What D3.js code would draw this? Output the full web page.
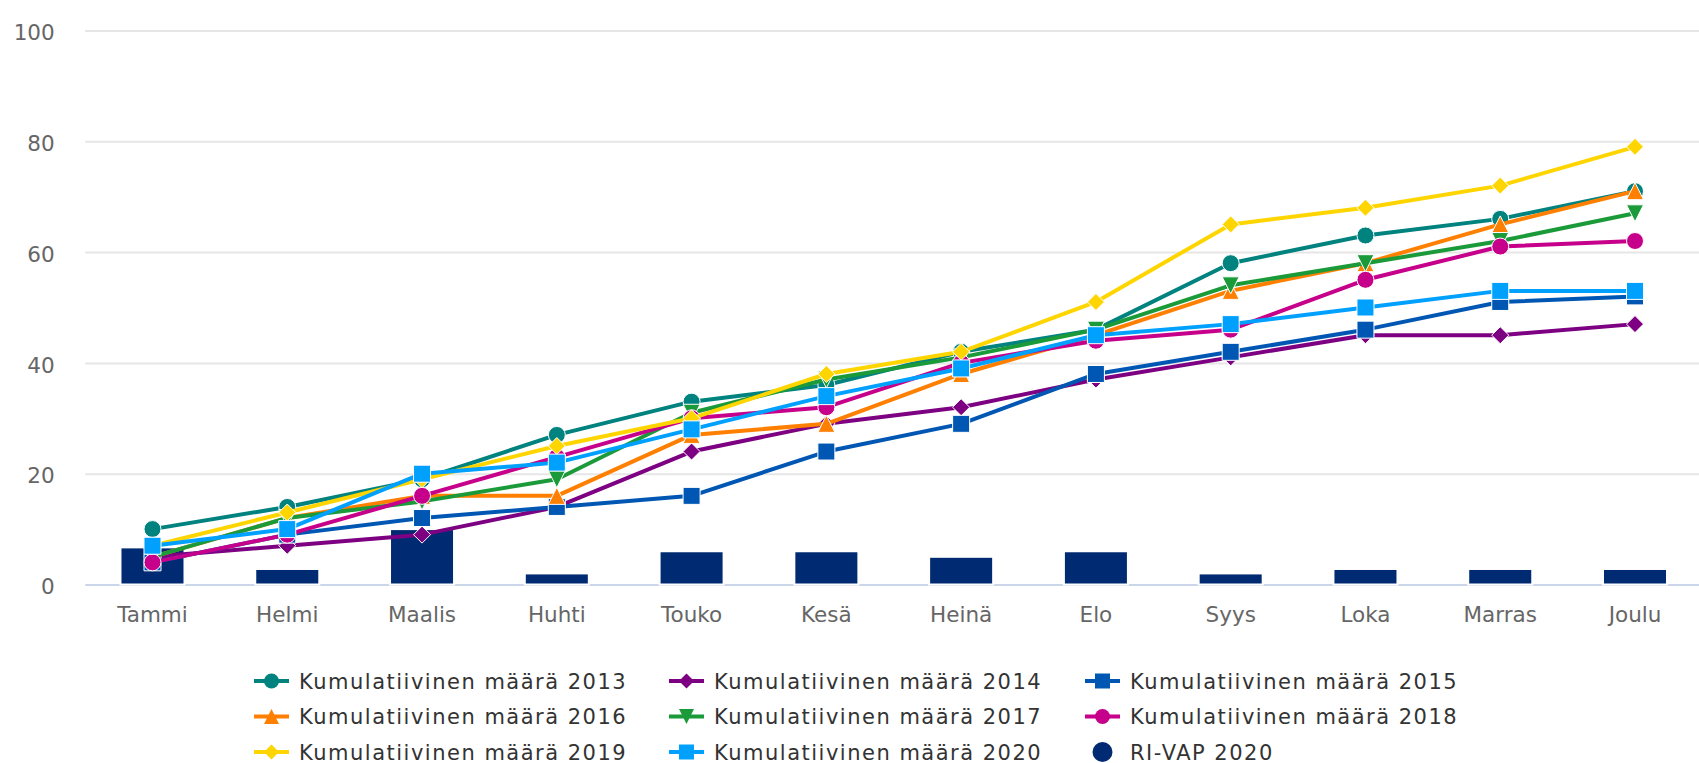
<!DOCTYPE html>
<html>
<head>
<meta charset="utf-8">
<script src="https://d3js.org/d3.v7.min.js"></script>
<style>
    body { margin: 0; background: #ffffff; }
    #chart-area { width: 1699px; height: 763px; }
    .axis text { font-family: "DejaVu Sans", sans-serif; font-size: 21.5px; fill: #666666; }
    .legend text { font-family: "DejaVu Sans", sans-serif; font-size: 21px; fill: #333333; letter-spacing: 1.5px; }
</style>
</head>
<body>
<div id="chart-area"></div>
<script>

// month categories (x axis)
let months = ["Tammi", "Helmi", "Maalis", "Huhti", "Touko", "Kesä", "Heinä", "Elo", "Syys", "Loka", "Marras", "Joulu"];

// cumulative line series
let cum2013 = [10, 14, 19, 27, 33, 36, 42, 46, 58, 63, 66, 71];
let cum2014 = [5, 7, 9, 14, 24, 29, 32, 37, 41, 45, 45, 47];
let cum2015 = [4, 9, 12, 14, 16, 24, 29, 38, 42, 46, 51, 52];
let cum2016 = [5, 12, 16, 16, 27, 29, 38, 45, 53, 58, 65, 71];
let cum2017 = [5, 12, 15, 19, 31, 37, 41, 46, 54, 58, 62, 67];
let cum2018 = [4, 9, 16, 23, 30, 32, 40, 44, 46, 55, 61, 62];
let cum2019 = [7, 13, 19, 25, 30, 38, 42, 51, 65, 68, 72, 79];
let cum2020 = [7, 10, 20, 22, 28, 34, 39, 45, 47, 50, 53, 53];

// column series
let riVap2020 = [6.7, 2.8, 10, 2, 6, 6, 5, 6, 2, 2.8, 2.8, 2.8];

let lineNames = ["Kumulatiivinen määrä 2013", "Kumulatiivinen määrä 2014", "Kumulatiivinen määrä 2015",
    "Kumulatiivinen määrä 2016", "Kumulatiivinen määrä 2017", "Kumulatiivinen määrä 2018",
    "Kumulatiivinen määrä 2019", "Kumulatiivinen määrä 2020"];
let lineValues = [cum2013, cum2014, cum2015, cum2016, cum2017, cum2018, cum2019, cum2020];
let lineColors = ["#00827e", "#7d0082", "#0057b3", "#ff7f00", "#1b9a3a", "#c6008a", "#ffd500", "#00a0ff"];
let lineSymbols = ["circle", "diamond", "square", "triangle", "triangle-down", "circle", "diamond", "square"];

let barName = "RI-VAP 2020";
let barColor = "#002b72";

let yTicks = [0, 20, 40, 60, 80, 100];


// marker shapes like the original (r = half size)
function markerPath(type, r) {
    if (type === "circle") {
        return "M" + (-r) + ",0A" + r + "," + r + " 0 1,0 " + r + ",0A" + r + "," + r + " 0 1,0 " + (-r) + ",0Z";
    }
    if (type === "square") {
        return "M" + (-r) + "," + (-r) + "H" + r + "V" + r + "H" + (-r) + "Z";
    }
    if (type === "diamond") {
        return "M0," + (-r) + "L" + r + ",0L0," + r + "L" + (-r) + ",0Z";
    }
    if (type === "triangle") {
        return "M0," + (-r) + "L" + r + "," + r + "L" + (-r) + "," + r + "Z";
    }
    // triangle-down
    return "M" + (-r) + "," + (-r) + "L" + r + "," + (-r) + "L0," + r + "Z";
}


class ComboChart {

    constructor(parentElement) {
        this.parentElement = parentElement;
        this.displayData = [];

        this.initVis();
    }

    initVis() {
        let vis = this;

        vis.margin = {top: 30.5, right: -3.4, bottom: 178.5, left: 85.1};

        vis.outerWidth = document.getElementById(vis.parentElement).getBoundingClientRect().width;
        vis.outerHeight = document.getElementById(vis.parentElement).getBoundingClientRect().height;
        vis.width = vis.outerWidth - vis.margin.left - vis.margin.right;
        vis.height = vis.outerHeight - vis.margin.top - vis.margin.bottom;

        vis.root = d3.select("#" + vis.parentElement).append("svg")
            .attr("width", vis.outerWidth)
            .attr("height", vis.outerHeight);

        vis.svg = vis.root.append("g")
            .attr("transform", "translate(" + vis.margin.left + "," + vis.margin.top + ")");

        // scales
        vis.x = d3.scaleBand()
            .domain(months)
            .range([0, vis.width])
            .padding(0);

        vis.y = d3.scaleLinear()
            .domain([0, 100])
            .range([vis.height, 0]);

        // y axis doubles as the grid
        vis.yAxis = d3.axisLeft(vis.y)
            .tickValues(yTicks)
            .tickSize(-vis.width)
            .tickPadding(30.4);

        vis.xAxis = d3.axisBottom(vis.x)
            .tickSize(0)
            .tickPadding(22.5);

        vis.svg.append("g")
            .attr("class", "y-axis axis");

        vis.svg.append("g")
            .attr("class", "x-axis axis")
            .attr("transform", "translate(0," + vis.height + ")");

        vis.barGroup = vis.svg.append("g").attr("class", "bars");
        vis.lineGroup = vis.svg.append("g").attr("class", "lines");

        vis.legend = vis.root.append("g").attr("class", "legend");

        vis.wrangleData();
    }

    wrangleData() {
        let vis = this;

        vis.displayData = lineValues.map((vals, i) => {
            return {
                name: lineNames[i],
                color: lineColors[i],
                symbol: lineSymbols[i],
                values: vals.map((v, j) => ({month: months[j], value: v}))
            };
        });

        vis.barData = riVap2020.map((v, j) => ({month: months[j], value: v}));

        vis.updateVis();
    }

    updateVis() {
        let vis = this;

        // axes
        vis.svg.select(".y-axis").call(vis.yAxis);
        vis.svg.select(".y-axis .domain").remove();
        vis.svg.selectAll(".y-axis line")
            .attr("stroke", "#e6e6e6")
            .attr("stroke-width", 2);
        vis.svg.selectAll(".y-axis text").attr("dy", "0.43em");

        vis.svg.select(".x-axis").call(vis.xAxis);
        vis.svg.select(".x-axis .domain")
            .attr("stroke", "#ccd6eb")
            .attr("stroke-width", 2);

        // columns
        let barWidth = vis.x.bandwidth() * 0.475;

        vis.barGroup.selectAll("rect")
            .data(vis.barData)
            .enter().append("rect")
            .attr("x", d => vis.x(d.month) + vis.x.bandwidth() / 2 - barWidth / 2)
            .attr("y", d => vis.y(d.value))
            .attr("width", barWidth)
            .attr("height", d => vis.height - vis.y(d.value))
            .attr("fill", barColor)
            .attr("stroke", "#ffffff")
            .attr("stroke-width", 2);

        // lines + markers
        let line = d3.line()
            .x(d => vis.x(d.month) + vis.x.bandwidth() / 2)
            .y(d => vis.y(d.value));

        let series = vis.lineGroup.selectAll(".series")
            .data(vis.displayData)
            .enter().append("g")
            .attr("class", "series");

        series.append("path")
            .attr("d", d => line(d.values))
            .attr("fill", "none")
            .attr("stroke", d => d.color)
            .attr("stroke-width", 4)
            .attr("stroke-linejoin", "round")
            .attr("stroke-linecap", "round");

        series.each(function(s) {
            d3.select(this).selectAll(".marker")
                .data(s.values)
                .enter().append("path")
                .attr("class", "marker")
                .attr("transform", d => "translate(" + (vis.x(d.month) + vis.x.bandwidth() / 2) + "," + vis.y(d.value) + ")")
                .attr("d", markerPath(s.symbol, 8.5))
                .attr("fill", s.color)
                .attr("stroke", "#ffffff")
                .attr("stroke-width", 1);
        });

        // legend, 3 per row
        let legendCols = [254, 669, 1085];
        let legendRows = [681, 716.5, 752];

        let legendItems = vis.displayData.map(d => ({name: d.name, color: d.color, symbol: d.symbol, isBar: false}));
        legendItems.push({name: barName, color: barColor, isBar: true});

        let item = vis.legend.selectAll(".legend-item")
            .data(legendItems)
            .enter().append("g")
            .attr("class", "legend-item")
            .attr("transform", (d, i) => "translate(" + legendCols[i % 3] + "," + legendRows[Math.floor(i / 3)] + ")");

        item.filter(d => !d.isBar).append("line")
            .attr("x1", 0).attr("x2", 35)
            .attr("y1", 0).attr("y2", 0)
            .attr("stroke", d => d.color)
            .attr("stroke-width", 4);

        item.filter(d => !d.isBar).append("path")
            .attr("transform", "translate(17.5,0)")
            .attr("d", d => markerPath(d.symbol, 7.5))
            .attr("fill", d => d.color);

        item.filter(d => d.isBar).append("circle")
            .attr("cx", 17.5)
            .attr("cy", 0)
            .attr("r", 10)
            .attr("fill", d => d.color);

        item.append("text")
            .attr("x", 45)
            .attr("y", 7.5)
            .text(d => d.name);
    }
}

let chart = new ComboChart("chart-area");

</script>
</body>
</html>
